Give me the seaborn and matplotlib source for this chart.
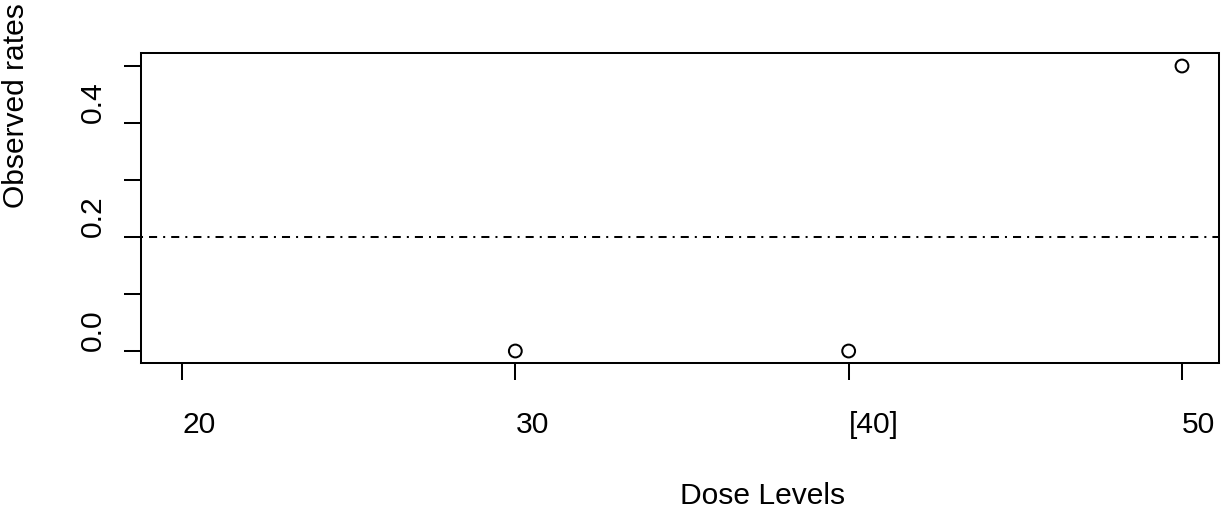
import numpy as np
import pandas as pd
import matplotlib
matplotlib.use("Agg")
import matplotlib.pyplot as plt
import seaborn as sns

# Dose levels and observed toxicity rates (no observation at the first level)
doses = [20, 30, 40, 50]
dose_labels = ["20", "30", "[40]", "50"]
observed_rates = [np.nan, 0.0, 0.0, 0.5]
target_rate = 0.2
y_ticks = [0.0, 0.1, 0.2, 0.3, 0.4, 0.5]
y_tick_labels = ["0.0", "", "0.2", "", "0.4", ""]

df = pd.DataFrame({"dose": doses, "rate": observed_rates})

sns.set_theme(style="white")
plt.rcParams["font.family"] = ["Liberation Sans", "DejaVu Sans"]

FS = 21.6
LW = 1.45

fig = plt.figure(figsize=(12.21, 5.09), dpi=100)
ax = fig.add_axes([0.11548, 0.28743, 0.88288, 0.60786])

sns.scatterplot(data=df, x="dose", y="rate", ax=ax, marker="o", s=85,
                facecolors="none", edgecolor="black", linewidth=LW,
                legend=False, zorder=3)

ax.axhline(target_rate, color="black", linewidth=LW, linestyle=(0, (1, 3, 4, 3)))

ax.set_xlim(18.77, 51.11)
ax.set_ylim(-0.0205, 0.5223)

ax.set_xticks(doses)
ax.set_xticklabels(dose_labels, fontsize=FS, ha="left")
ax.set_yticks(y_ticks)
ax.set_yticklabels(y_tick_labels, fontsize=FS, rotation=90, va="bottom")

ax.tick_params(axis="x", direction="out", length=12.5, width=LW, color="black",
               pad=22, labelcolor="black", bottom=True)
ax.tick_params(axis="y", direction="out", length=12.5, width=LW, color="black",
               pad=12, labelcolor="black", left=True)

for sp in ax.spines.values():
    sp.set_visible(True)
    sp.set_color("black")
    sp.set_linewidth(LW)

ax.set_xlabel("Dose Levels", fontsize=FS, color="black")
ax.xaxis.label.set_horizontalalignment("left")
ax.xaxis.label.set_verticalalignment("baseline")
ax.xaxis.set_label_coords(0.5, (362.7 - 504) / 309.4)

# y label reads upward from the middle of the plot region
ax.set_ylabel("Observed rates", fontsize=FS, color="black")
ax.yaxis.label.set_rotation_mode("anchor")
ax.yaxis.label.set_horizontalalignment("left")
ax.yaxis.label.set_verticalalignment("top")
ax.yaxis.set_label_coords((2 - 141) / 1078, 0.5)

fig.savefig("out.png", dpi=100)
